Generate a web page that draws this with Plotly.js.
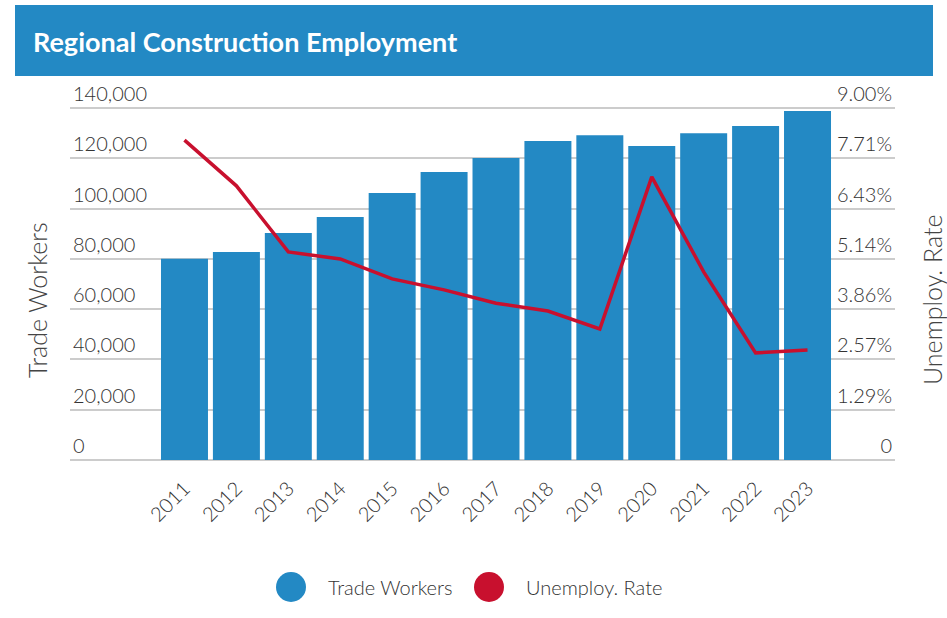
<!DOCTYPE html>
<html>
<head>
<meta charset="utf-8">
<script src="https://cdn.plot.ly/plotly-3.0.1.min.js"></script>
<style>html,body{margin:0;padding:0;background:#fff;}#chart{width:947px;height:618px;}</style>
</head>
<body>
<div id="chart"></div>
<script>
var years = ["2011","2012","2013","2014","2015","2016","2017","2018","2019","2020","2021","2022","2023"];
var tradeWorkers = [80000, 82700, 90300, 96600, 106200, 114500, 120100, 126900, 129200, 124900, 130000, 132800, 138800];
var unemployRate = [8.18, 7.01, 5.32, 5.14, 4.63, 4.35, 4.01, 3.81, 3.35, 7.24, 4.81, 2.74, 2.81];
var rateTickVals = [0, 9/7, 18/7, 27/7, 36/7, 45/7, 54/7, 9];
var rateTickText = ["0", "1.29%", "2.57%", "3.86%", "5.14%", "6.43%", "7.71%", "9.00%"];
var workerTickVals = [0, 20000, 40000, 60000, 80000, 100000, 120000, 140000];
var seriesNames = ["Trade Workers", "Unemploy. Rate"];
var axisTitles = ["Trade Workers", "Unemploy. Rate"];
var chartTitle = "Regional Construction Employment";

var BLUE = "#2389c4", RED = "#c8102e", GRID = "#cccccc", TXT = "#333333";
var FONT = "Lato, 'Open Sans', sans-serif";

var traces = [
  {type: "bar", x: years, y: tradeWorkers, name: seriesNames[0], marker: {color: BLUE}, yaxis: "y", showlegend: false, hoverinfo: "x+y"},
  {type: "scatter", mode: "lines", x: years, y: unemployRate, name: seriesNames[1], line: {color: RED, width: 3.5}, yaxis: "y2", showlegend: false}
];

// plot area: x 70..895, y 76..460 ; 140,000 gridline sits at y=108
var TOP = 76, BOT = 460, W = 825, H = BOT - TOP;
var EXT = H / (BOT - 108);
function px(x){ return (x - 70) / W; }
function py(y){ return (BOT - y) / H; }

var layout = {
  width: 947, height: 618,
  margin: {l: 70, r: 52, t: TOP, b: 618 - BOT, pad: 0},
  paper_bgcolor: "#ffffff", plot_bgcolor: "#ffffff",
  font: {family: FONT, color: TXT, size: 20, weight: 300},
  bargap: 0.095,
  title: {text: chartTitle, x: 33/947, xanchor: "left", xref: "container", y: 1 - 43/618, yanchor: "middle", yref: "container",
          font: {family: FONT, size: 27, color: "#ffffff", weight: 700}},
  xaxis: {type: "category", range: [-2.205, 13.685], showgrid: false, zeroline: false, showline: false, ticks: "",
          tickangle: -45, tickfont: {size: 20, color: TXT, weight: 300}, ticklabelstandoff: 12},
  yaxis: {range: [0, 140000 * EXT], tickvals: workerTickVals, tickformat: ",", showgrid: true, gridcolor: GRID, gridwidth: 2,
          zeroline: true, zerolinecolor: GRID, zerolinewidth: 2, showline: false, ticks: "",
          ticklabelposition: "inside top", tickfont: {size: 20, color: TXT, weight: 300}},
  yaxis2: {range: [0, 9 * EXT], overlaying: "y", side: "right", tickvals: rateTickVals, ticktext: rateTickText,
           showgrid: false, zeroline: false, showline: false, ticks: "",
           ticklabelposition: "inside top", tickfont: {size: 20, color: TXT, weight: 300}},
  shapes: [
    {type: "rect", xref: "paper", yref: "paper", x0: px(15), x1: px(933), y0: py(76), y1: py(5), fillcolor: BLUE, line: {width: 0}, layer: "below"},
    {type: "circle", xref: "paper", yref: "paper", xsizemode: "pixel", ysizemode: "pixel", xanchor: px(291), yanchor: py(587),
     x0: -15, x1: 15, y0: -15, y1: 15, fillcolor: BLUE, line: {width: 0}},
    {type: "circle", xref: "paper", yref: "paper", xsizemode: "pixel", ysizemode: "pixel", xanchor: px(489), yanchor: py(587),
     x0: -15, x1: 15, y0: -15, y1: 15, fillcolor: RED, line: {width: 0}}
  ],
  annotations: [
    {text: axisTitles[0], xref: "paper", yref: "paper", x: px(37), y: py(300), xanchor: "center", yanchor: "middle", textangle: -90,
     showarrow: false, font: {size: 25, color: "#444", weight: 300}},
    {text: axisTitles[1], xref: "paper", yref: "paper", x: px(932), y: py(300), xanchor: "center", yanchor: "middle", textangle: -90,
     showarrow: false, font: {size: 25, color: "#444", weight: 300}},
    {text: seriesNames[0], xref: "paper", yref: "paper", x: px(326), y: py(587), xanchor: "left", yanchor: "middle", showarrow: false,
     font: {size: 20, color: TXT, weight: 300}},
    {text: seriesNames[1], xref: "paper", yref: "paper", x: px(524), y: py(587), xanchor: "left", yanchor: "middle", showarrow: false,
     font: {size: 20, color: TXT, weight: 300}}
  ],
  showlegend: false
};

Plotly.newPlot("chart", traces, layout, {displayModeBar: false, staticPlot: true});
</script>
</body>
</html>
